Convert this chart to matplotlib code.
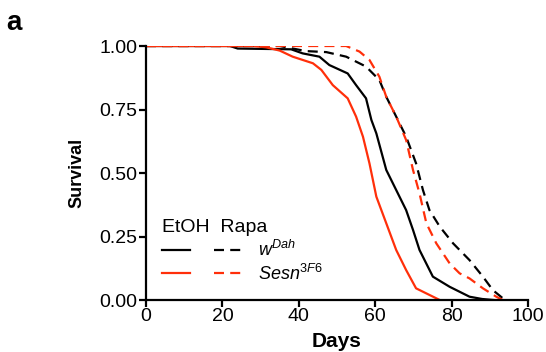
import matplotlib
matplotlib.use("Agg")
import matplotlib.pyplot as plt
from matplotlib.legend_handler import HandlerTuple

plt.rcParams['font.family'] = ['Liberation Sans', 'DejaVu Sans']
plt.rcParams['mathtext.fontset'] = 'custom'
plt.rcParams['mathtext.rm'] = 'Liberation Sans'
plt.rcParams['mathtext.it'] = 'Liberation Sans:italic'

RED = '#ff2f0a'

# survival curves (days, fraction alive)
w_etoh_days = [0, 22, 24, 38, 41, 45.4, 48, 52.8, 55, 57.6, 59, 60.3, 62.9, 65.5, 68.1, 69.9, 71.6, 75.1, 79.5, 84.7, 88, 91]
w_etoh_surv = [1.0, 1.0, 0.99, 0.987, 0.971, 0.958, 0.925, 0.892, 0.846, 0.794, 0.709, 0.656, 0.512, 0.433, 0.354, 0.276, 0.197, 0.092, 0.052, 0.013, 0.004, 0.0]

sesn_etoh_days = [0, 28, 31.4, 35, 38.4, 43.7, 45.9, 48.9, 52.8, 55, 56.8, 58.5, 60.3, 62.9, 65.5, 68.1, 70.7, 74.2, 76.9]
sesn_etoh_surv = [1.0, 1.0, 0.995, 0.982, 0.958, 0.932, 0.906, 0.846, 0.794, 0.722, 0.643, 0.538, 0.407, 0.302, 0.197, 0.118, 0.046, 0.020, 0.0]

w_rapa_days = [0, 35, 41.9, 47.2, 52.4, 57.6, 61.1, 62.9, 65.5, 68.1, 70.7, 72.5, 74.2, 76.9, 80.4, 84.7, 88.2, 90.8, 93.4, 94.3]
w_rapa_surv = [1.0, 1.0, 0.98, 0.976, 0.958, 0.919, 0.866, 0.80, 0.722, 0.643, 0.538, 0.433, 0.354, 0.289, 0.223, 0.157, 0.092, 0.039, 0.007, 0.0]

sesn_rapa_days = [0, 52.4, 55.9, 58.5, 61.1, 62.9, 65.5, 68.1, 69.9, 71.6, 73.4, 76, 79.5, 82.1, 84.7, 88.2, 91.7, 93.4]
sesn_rapa_surv = [1.0, 1.0, 0.978, 0.945, 0.879, 0.80, 0.722, 0.63, 0.512, 0.42, 0.302, 0.223, 0.144, 0.105, 0.085, 0.046, 0.013, 0.0]

xticks = [0, 20, 40, 60, 80, 100]
yticks = [0.0, 0.25, 0.5, 0.75, 1.0]

fig = plt.figure(figsize=(5.46, 3.52), dpi=100)
ax = fig.add_axes([0.2674, 0.1477, 0.6996, 0.7216])

lw = 1.6
dash = (0, (4.5, 2.8))
l1, = ax.plot(w_etoh_days, w_etoh_surv, color='black', lw=lw)
l2, = ax.plot(sesn_etoh_days, sesn_etoh_surv, color=RED, lw=lw)
l3, = ax.plot(w_rapa_days, w_rapa_surv, color='black', lw=lw, linestyle=dash)
l4, = ax.plot(sesn_rapa_days, sesn_rapa_surv, color=RED, lw=lw, linestyle=dash)

ax.set_xlim(0, 100)
ax.set_ylim(0, 1)
ax.set_xticks(xticks)
ax.set_yticks(yticks)
ax.set_yticklabels(['%.2f' % v for v in yticks])
ax.tick_params(labelsize=14, width=1.6, length=5, direction='out', pad=1)
for s in ['top', 'right']:
    ax.spines[s].set_visible(False)
for s in ['left', 'bottom']:
    ax.spines[s].set_linewidth(1.6)

ax.set_xlabel('Days', fontsize=15, fontweight='bold', labelpad=5)
ax.set_ylabel('Survival', fontsize=13, fontweight='bold', labelpad=10)

leg = ax.legend([(l1, l3), (l2, l4)],
                [r'$w^{Dah}$', r'$\mathit{Sesn}^{\mathit{3F6}}$'],
                handler_map={tuple: HandlerTuple(ndivide=None, pad=1.3)},
                title='EtOH  Rapa', title_fontsize=14, fontsize=13,
                handlelength=4.4, handletextpad=0.9, labelspacing=0.2,
                frameon=False, loc='lower left', bbox_to_anchor=(0.0, 0.0),
                alignment='left')

fig.text(0.012, 0.915, 'a', fontsize=20, fontweight='bold')

fig.savefig('out.png', dpi=100)
